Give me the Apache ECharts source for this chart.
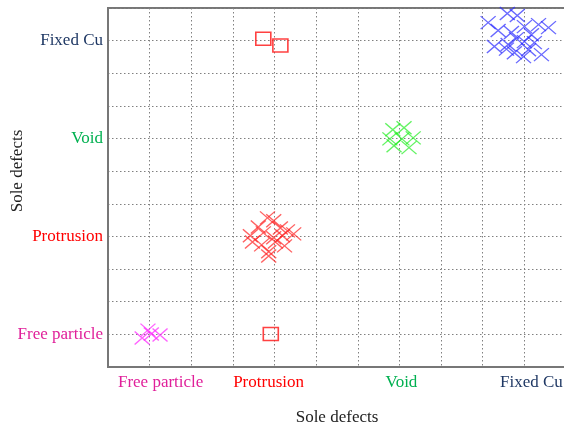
<!DOCTYPE html>
<html>
<head>
<meta charset="utf-8">
<script src="https://cdn.jsdelivr.net/npm/echarts@6/dist/echarts.min.js"></script>
<style>html,body{margin:0;padding:0;background:#fff}#c{width:564px;height:427px}</style>
</head>
<body>
<div id="c"></div>
<script>
// Category labels placed at axis positions 1, 4, 7, 10
const categories = ['Free particle', 'Protrusion', 'Void', 'Fixed Cu'];
const categoryPositions = [1, 4, 7, 10];

// Cluster points [x, y] in axis units
const fixedCuPoints = [
  [9.13, 10.55], [9.59, 10.83], [9.83, 10.77], [9.37, 10.31], [9.69, 10.25],
  [10.0, 10.43], [10.34, 10.49], [10.58, 10.40], [10.17, 10.18], [9.28, 9.82],
  [9.61, 9.88], [9.81, 10.06], [10.0, 9.97], [10.24, 9.94], [9.76, 9.63],
  [9.98, 9.51], [10.41, 9.57], [9.57, 9.74], [10.1, 9.72]
];
const voidPoints = [
  [6.84, 7.27], [7.11, 7.33], [7.33, 7.02], [6.87, 6.78], [7.06, 6.99],
  [7.23, 6.72], [6.77, 6.99]
];
const protrusionPoints = [
  [3.83, 4.57], [3.98, 4.48], [3.61, 4.29], [4.14, 4.26], [4.31, 4.17],
  [4.46, 4.08], [3.42, 4.02], [3.73, 4.11], [3.98, 3.96], [4.19, 4.02],
  [3.47, 3.83], [3.69, 3.74], [4.02, 3.83], [4.24, 3.71], [3.86, 3.53],
  [3.86, 3.40]
];
const freeParticlePoints = [
  [0.96, 1.13], [0.82, 0.89], [1.25, 0.98], [1.04, 1.01]
];
const squarePoints = [
  [3.73, 10.06], [4.14, 9.85], [3.91, 1.01]
];

const labelColors = ['#e0209a', '#ff0000', '#00b050', '#1f3864'];
const xLabelShift = [11, -6, 2, 7];
const font = '"Liberation Serif", "Times New Roman", serif';
const fs = 17;

const xRich = {}, yRich = {};
categories.forEach((c, i) => {
  const s = xLabelShift[i];
  xRich['x' + i] = {color: labelColors[i], fontFamily: font, fontSize: fs,
    padding: s >= 0 ? [0, 0, 0, 2 * s] : [0, -2 * s, 0, 0]};
  yRich['y' + i] = {color: labelColors[i], fontFamily: font, fontSize: fs};
});
function labelFor(v, prefix) {
  const i = categoryPositions.indexOf(Math.round(v));
  if (i < 0 || Math.abs(v - categoryPositions[i]) > 1e-6) return '';
  return '{' + prefix + i + '|' + categories[i] + '}';
}

const xPath = 'path://M0,0L10,10M10,0L0,10';
function crossSeries(data, color) {
  return {
    type: 'scatter', data: data, symbol: xPath, symbolSize: [15, 13],
    itemStyle: {color: 'none', borderColor: color, borderWidth: 1.3, opacity: 0.7},
    silent: true
  };
}

const gridLine = {show: true, lineStyle: {type: [1.5, 2.5], color: '#808080', width: 1}};

const chart = echarts.init(document.getElementById('c'), null, {renderer: 'canvas'});
chart.setOption({
  animation: false,
  backgroundColor: '#fff',
  grid: {left: 108, top: 8, right: -2, bottom: 60, containLabel: false, outerBoundsMode: 'none',
    show: true, borderColor: '#777', borderWidth: 2, backgroundColor: 'transparent'},
  xAxis: {
    type: 'value', min: 0, max: 11, interval: 1,
    name: 'Sole defects', nameLocation: 'middle', nameGap: 42, nameMoveOverlap: false,
    nameTextStyle: {fontFamily: font, fontSize: fs, color: '#222'},
    axisLine: {show: true, lineStyle: {color: '#777', width: 2}},
    axisTick: {show: false},
    axisLabel: {margin: 7, formatter: v => labelFor(v, 'x'), rich: xRich, showMinLabel: true, showMaxLabel: true},
    splitLine: gridLine
  },
  yAxis: {
    type: 'value', min: 0, max: 11, interval: 1,
    name: 'Sole defects', nameLocation: 'middle', nameGap: 82, nameMoveOverlap: false,
    nameTextStyle: {fontFamily: font, fontSize: fs, color: '#222', padding: [0, 0, 0, 33]},
    axisLine: {show: true, lineStyle: {color: '#777', width: 2}},
    axisTick: {show: false},
    axisLabel: {margin: 5, formatter: v => labelFor(v, 'y'), rich: yRich},
    splitLine: gridLine
  },
  series: [
    crossSeries(fixedCuPoints, '#2a2aff'),
    crossSeries(voidPoints, '#22ee22'),
    crossSeries(protrusionPoints, '#ff2020'),
    crossSeries(freeParticlePoints, '#ff22ff'),
    {
      type: 'scatter', data: squarePoints, symbol: 'rect', symbolSize: [15, 13],
      itemStyle: {color: 'rgba(255,255,255,0)', borderColor: '#ff2020', borderWidth: 1.5, opacity: 0.85},
      silent: true
    }
  ]
});
</script>
</body>
</html>
